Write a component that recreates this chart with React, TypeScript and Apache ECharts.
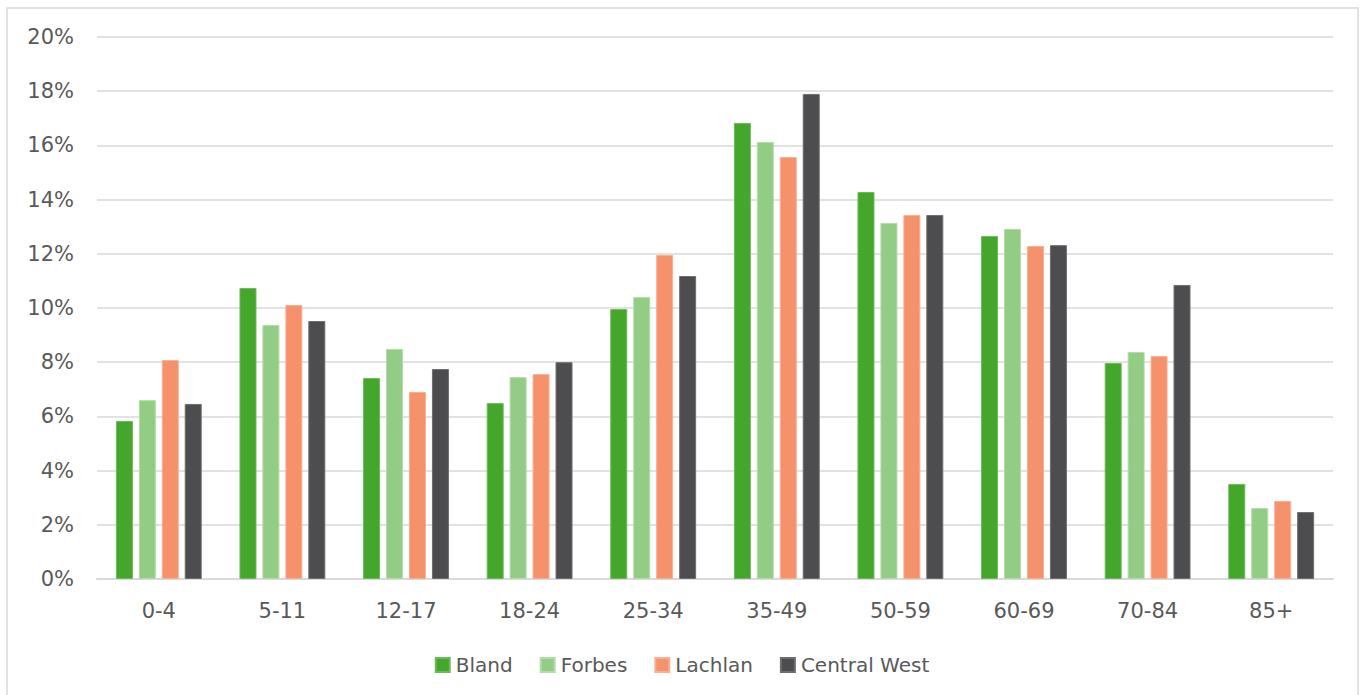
import React, { useEffect, useRef } from "react";
import * as echarts from "echarts";

const ageGroups = ["0-4", "5-11", "12-17", "18-24", "25-34", "35-49", "50-59", "60-69", "70-84", "85+"];
const bland = [5.83, 10.74, 7.42, 6.49, 9.96, 16.83, 14.28, 12.66, 7.97, 3.51];
const forbes = [6.6, 9.37, 8.49, 7.45, 10.41, 16.13, 13.14, 12.92, 8.38, 2.62];
const lachlan = [8.08, 10.11, 6.9, 7.56, 11.96, 15.57, 13.43, 12.29, 8.23, 2.88];
const centralWest = [6.46, 9.52, 7.75, 8.0, 11.18, 17.9, 13.43, 12.32, 10.85, 2.47];

const seriesNames = ["Bland", "Forbes", "Lachlan", "Central West"];
const seriesColors = ["#45a62c", "#93cd85", "#f5916b", "#4d4d4f"];
const seriesBorders = ["#6dba5a", "#b3dca9", "#f8b093", "#6e6e70"];

const FONT = "DejaVu Sans";
const TEXT = "#595959";
const SIZE = 21;

export default function App() {
  const ref = useRef<HTMLDivElement>(null);

  useEffect(() => {
    if (!ref.current) return;
    const chart = echarts.init(ref.current, undefined, { renderer: "svg" });
    const data = [bland, forbes, lachlan, centralWest];
    chart.setOption({
      animation: false,
      backgroundColor: "#ffffff",
      textStyle: { fontFamily: FONT, color: TEXT },
      graphic: [
        {
          type: "rect",
          shape: { x: 7, y: 8, width: 1351, height: 700 },
          style: { fill: "none", stroke: "#d9d9d9", lineWidth: 1.5 },
          silent: true,
        },
      ],
      grid: { left: 97, right: 31, top: 37, bottom: 116, containLabel: false },
      legend: {
        bottom: 15,
        left: "center",
        itemWidth: 14,
        itemHeight: 14,
        itemGap: 27,
        icon: "rect",
        textStyle: { fontFamily: FONT, fontSize: 20, color: TEXT, padding: [0, 0, 0, 1] },
        data: seriesNames,
      },
      xAxis: {
        type: "category",
        data: ageGroups,
        axisLine: { lineStyle: { color: "#d9d9d9", width: 2 } },
        axisTick: { show: false },
        axisLabel: { fontFamily: FONT, fontSize: SIZE, color: TEXT, margin: 21 },
      },
      yAxis: {
        type: "value",
        min: 0,
        max: 20,
        interval: 2,
        axisLine: { show: false },
        axisTick: { show: false },
        splitLine: { lineStyle: { color: "#d9d9d9", width: 1.5 } },
        axisLabel: {
          fontFamily: FONT,
          fontSize: SIZE,
          color: TEXT,
          margin: 23,
          formatter: (v: number) => `${v}%`,
        },
      },
      series: seriesNames.map((name, i) => ({
        name,
        type: "bar",
        data: data[i],
        barWidth: 17,
        barGap: "35%",
        itemStyle: { color: seriesColors[i], borderColor: seriesBorders[i], borderWidth: 1 },
      })),
    });
    return () => chart.dispose();
  }, []);

  return (
    <div
      ref={ref}
      style={{ position: "absolute", left: 0, top: 0, width: 1364, height: 695 }}
    />
  );
}
